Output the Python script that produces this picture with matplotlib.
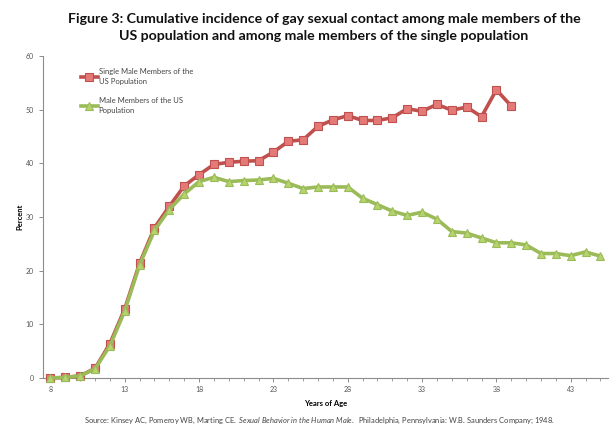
import matplotlib
matplotlib.use("Agg")
import matplotlib.pyplot as plt
import numpy as np

plt.rcParams['font.family'] = ['Lato', 'DejaVu Sans']
plt.rcParams['mathtext.fontset'] = 'custom'
plt.rcParams['mathtext.rm'] = 'Lato'
plt.rcParams['mathtext.it'] = 'Lato:italic'

# ages and cumulative incidence (percent)
ages_single = list(range(8, 40))
single_males = [0.0, 0.1, 0.4, 1.8, 6.4, 12.9, 21.4, 28.0, 32.0, 35.8,
                37.9, 39.8, 40.2, 40.4, 40.5, 42.1, 44.1, 44.4, 46.9, 48.1,
                48.9, 48.0, 48.0, 48.5, 50.2, 49.7, 51.0, 49.9, 50.5, 48.7,
                53.7, 50.7]

ages_us = list(range(8, 46))
us_males = [0.0, 0.1, 0.4, 1.7, 6.0, 12.5, 21.1, 27.5, 31.4, 34.3,
            36.6, 37.4, 36.6, 36.8, 36.9, 37.2, 36.3, 35.3, 35.6, 35.6,
            35.6, 33.5, 32.3, 31.1, 30.3, 30.9, 29.6, 27.3, 27.0, 26.1,
            25.2, 25.2, 24.8, 23.2, 23.2, 22.8, 23.5, 22.7]

xticks = [8, 13, 18, 23, 28, 33, 38, 43]
yticks = [0, 10, 20, 30, 40, 50, 60]

red_line = '#c0504d'
red_fill = '#e47a78'
green_line = '#9bbb59'
green_fill = '#b5d46e'

fig = plt.figure(figsize=(6.16, 4.38), dpi=100)
ax = fig.add_axes([0.0698, 0.137, 0.917, 0.735])

ax.plot(ages_single, single_males, color=red_line, lw=2.6, marker='s', ms=6,
        mfc=red_fill, mec=red_line, mew=0.8, clip_on=False, zorder=3,
        label='Single Male Members of the\nUS Population')
ax.plot(ages_us, us_males, color=green_line, lw=2.6, marker='^', ms=6,
        mfc=green_fill, mec=green_line, mew=0.8, clip_on=False, zorder=4,
        label='Male Members of the US\nPopulation')

ax.set_xlim(7.5, 45.5)
ax.set_ylim(0, 60)
ax.set_xticks(xticks)
ax.set_xticks(np.arange(8, 46), minor=True)
ax.set_yticks(yticks)

for s in ['top', 'right']:
    ax.spines[s].set_visible(False)
for s in ['left', 'bottom']:
    ax.spines[s].set_color('#8c8c8c')
    ax.spines[s].set_linewidth(0.8)
ax.tick_params(axis='both', which='both', direction='out', colors='#8c8c8c',
               labelcolor='#555555', labelsize=5)
ax.tick_params(axis='both', which='major', length=3, width=0.7)
ax.tick_params(axis='x', which='minor', length=2, width=0.6)
ax.tick_params(axis='x', pad=3)

ax.set_ylabel('Percent', fontsize=5.5, fontweight='bold', labelpad=2)
ax.set_xlabel('Years of Age', fontsize=5.5, fontweight='bold', labelpad=5)

leg = ax.legend(loc='upper left', bbox_to_anchor=(0.055, 0.985), frameon=False,
                fontsize=5.5, handlelength=2.2, handletextpad=0.1,
                labelspacing=1.6, markerscale=0.9)
for t in leg.get_texts():
    t.set_color('#444444')
    t.set_linespacing(1.5)

fig.text(0.526, 0.938, 'Figure 3: Cumulative incidence of gay sexual contact among male members of the\n'
         'US population and among male members of the single population',
         ha='center', va='center', fontsize=10.2, fontweight='bold',
         linespacing=1.5, color='#111111')

fig.text(0.518, 0.039, 'Source: Kinsey AC, Pomeroy WB, Marting CE.  $\\it{Sexual\\ Behavior\\ in\\ the\\ Human\\ Male.}$  '
         'Philadelphia, Pennsylvania: W.B. Saunders Company; 1948.',
         ha='center', va='center', fontsize=5.4, color='#444444')

fig.savefig('out.png', dpi=100)
